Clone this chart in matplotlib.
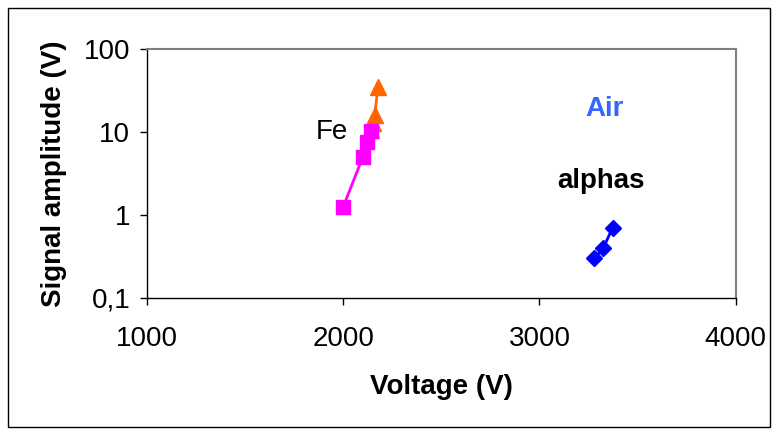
import matplotlib.pyplot as plt
from matplotlib.patches import Rectangle
from matplotlib.ticker import FixedLocator, NullLocator

plt.rcParams['font.family'] = ['Liberation Sans', 'DejaVu Sans']

# data
fe_v = [2000, 2100, 2120, 2140]
fe_amp = [1.25, 5.0, 7.5, 10.2]
fe_hi_v = [2140, 2150, 2160, 2178]
fe_hi_amp = [10.5, 13, 16, 35]
air_v = [3280, 3325, 3372]
air_amp = [0.30, 0.40, 0.70]

y_ticks = [0.1, 1, 10, 100]
y_ticklabels = ["0,1", "1", "10", "100"]
x_ticks = [1000, 2000, 3000, 4000]

fs = 20

fig = plt.figure(figsize=(7.77, 4.30), dpi=100)
ax = fig.add_axes([0.189, 0.307, 0.758, 0.579])

ax.plot(fe_v, fe_amp, '-', color="#FF00FF", lw=2,
        marker='s', ms=10, mec="#FF00FF", mfc="#FF00FF", zorder=3)
ax.plot(fe_hi_v, fe_hi_amp, '-', color="#FF6600", lw=2,
        marker='^', ms=11, mec="#FF6600", mfc="#FF6600", zorder=2)
ax.plot(air_v, air_amp, '-', color="#0000FF", lw=2,
        marker='D', ms=8, mec="#0000FF", mfc="#0000FF", zorder=3)

ax.set_yscale('log')
ax.set_xlim(1000, 4000)
ax.set_ylim(0.1, 100)
ax.yaxis.set_major_locator(FixedLocator(y_ticks))
ax.yaxis.set_minor_locator(NullLocator())
ax.set_yticklabels(y_ticklabels)
ax.set_xticks(x_ticks)
ax.tick_params(axis='both', labelsize=fs, direction='out', length=5,
               width=1, color="black")
ax.tick_params(axis='x', pad=15)
ax.tick_params(axis='y', pad=7)

for s in ['top', 'right']:
    ax.spines[s].set_color("#808080")
    ax.spines[s].set_linewidth(1.5)
for s in ['left', 'bottom']:
    ax.spines[s].set_color("black")
    ax.spines[s].set_linewidth(1)

ax.set_xlabel("Voltage (V)", fontsize=fs, fontweight='bold', labelpad=16)
ax.set_ylabel("Signal amplitude (V)", fontsize=fs, fontweight='bold', labelpad=12)

ax.text(1943, 10, "Fe", fontsize=fs, ha='center', va='center', color="black")
ax.text(3330, 19, "Air", fontsize=fs, fontweight='bold', ha='center',
        va='center', color="#3366FF")
ax.text(3315, 2.55, "alphas", fontsize=fs, fontweight='bold', ha='center',
        va='center', color="black")

fig.patches.append(Rectangle((8 / 777, 3 / 430), 762 / 777, 419 / 430,
                             transform=fig.transFigure, fill=False,
                             edgecolor="black", lw=1))

fig.savefig("out.png", dpi=100)
